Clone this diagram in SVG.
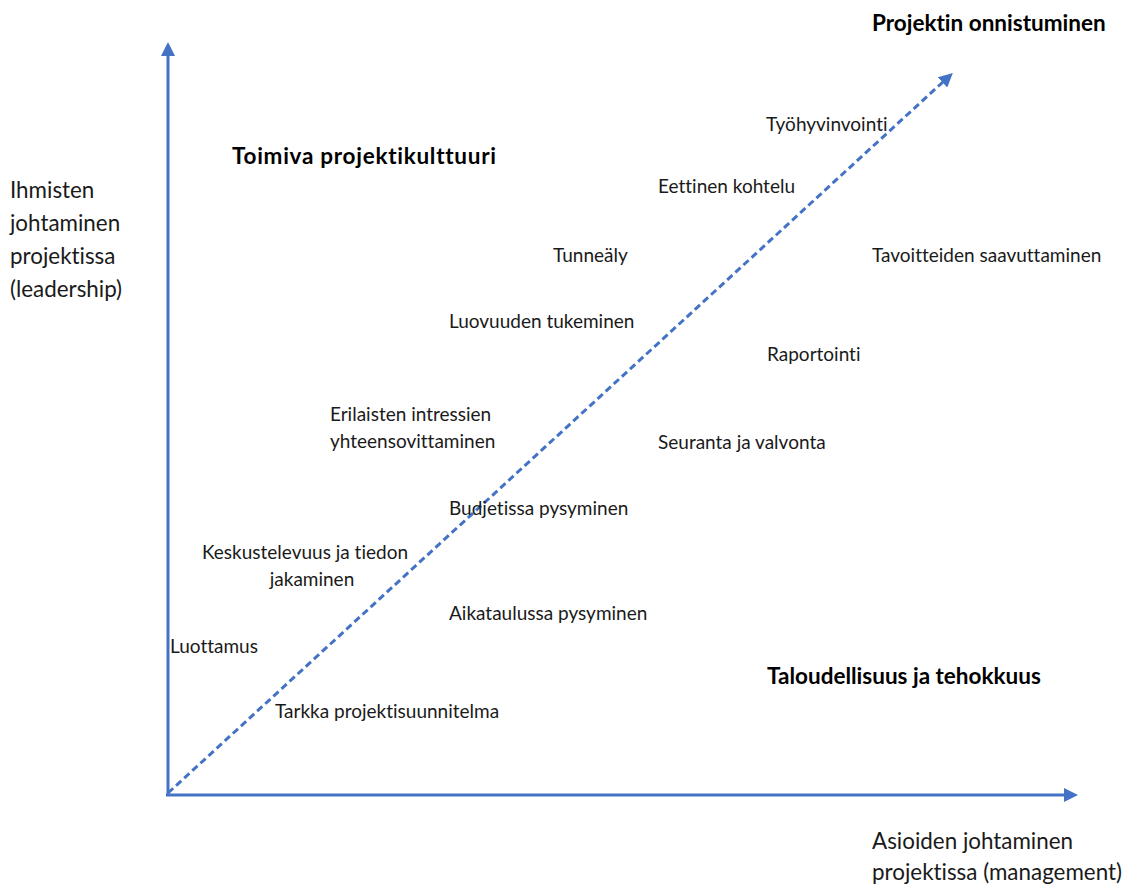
<svg xmlns="http://www.w3.org/2000/svg" width="1130" height="886" viewBox="0 0 1130 886">
<style>
text{font-variant-ligatures:none;font-family:Lato,"Open Sans",sans-serif}
.t{font-size:19px;fill:#1a1a1a}
.b{font-size:22.5px;font-weight:bold;fill:#000}
.ax{font-size:22.4px;fill:#1a1a1a}
.axis{stroke:#4472C4;stroke-width:3;fill:none}
</style>
<defs>
<marker id="ah2" markerWidth="14" markerHeight="14" refX="2" refY="7" orient="auto" markerUnits="userSpaceOnUse" viewBox="0 0 14 14">
<path d="M0,0 L14,7 L0,14 z" fill="#4472C4"/>
</marker>
</defs>
<g id="connectors">
<line class="axis" x1="168" y1="795" x2="168" y2="54" marker-end="url(#ah2)"/>
<line class="axis" x1="166" y1="795" x2="1066" y2="795" marker-end="url(#ah2)"/>
<line class="axis" x1="168" y1="793" x2="944" y2="81" stroke-dasharray="7,4" marker-end="url(#ah2)"/>
</g>
<g id="axis-y"><text class="ax" x="10" y="198">Ihmisten</text><text class="ax" x="10" y="231">johtaminen</text><text class="ax" x="10" y="264">projektissa</text><text class="ax" x="10" y="297">(leadership)</text></g>
<g id="axis-x"><text class="ax" x="872" y="849">Asioiden johtaminen</text><text class="ax" x="872" y="880">projektissa (management)</text></g>
<g id="projektin-onnistuminen"><text class="b" x="872" y="31">Projektin onnistuminen</text></g>
<g id="toimiva"><text class="b" x="232" y="164" textLength="264" lengthAdjust="spacing">Toimiva projektikulttuuri</text></g>
<g id="taloudellisuus"><text class="b" x="767" y="684">Taloudellisuus ja tehokkuus</text></g>
<g id="tyohyvinvointi"><text class="t" x="766" y="131">Työhyvinvointi</text></g>
<g id="eettinen"><text class="t" x="658" y="193">Eettinen kohtelu</text></g>
<g id="tunnealy"><text class="t" x="553" y="262">Tunneäly</text></g>
<g id="tavoitteiden"><text class="t" x="872" y="262">Tavoitteiden saavuttaminen</text></g>
<g id="luovuuden"><text class="t" x="449" y="328">Luovuuden tukeminen</text></g>
<g id="raportointi"><text class="t" x="767" y="361">Raportointi</text></g>
<g id="erilaisten"><text class="t" x="330" y="421">Erilaisten intressien</text><text class="t" x="330" y="448">yhteensovittaminen</text></g>
<g id="seuranta"><text class="t" x="658" y="449">Seuranta ja valvonta</text></g>
<g id="budjetissa"><text class="t" x="449" y="515">Budjetissa pysyminen</text></g>
<g id="keskustelevuus"><text class="t" x="305" y="559" text-anchor="middle">Keskustelevuus ja tiedon</text><text class="t" x="312" y="586" text-anchor="middle">jakaminen</text></g>
<g id="aikataulussa"><text class="t" x="449" y="620">Aikataulussa pysyminen</text></g>
<g id="luottamus"><text class="t" x="170" y="653">Luottamus</text></g>
<g id="tarkka"><text class="t" x="275" y="718">Tarkka projektisuunnitelma</text></g>
</svg>
